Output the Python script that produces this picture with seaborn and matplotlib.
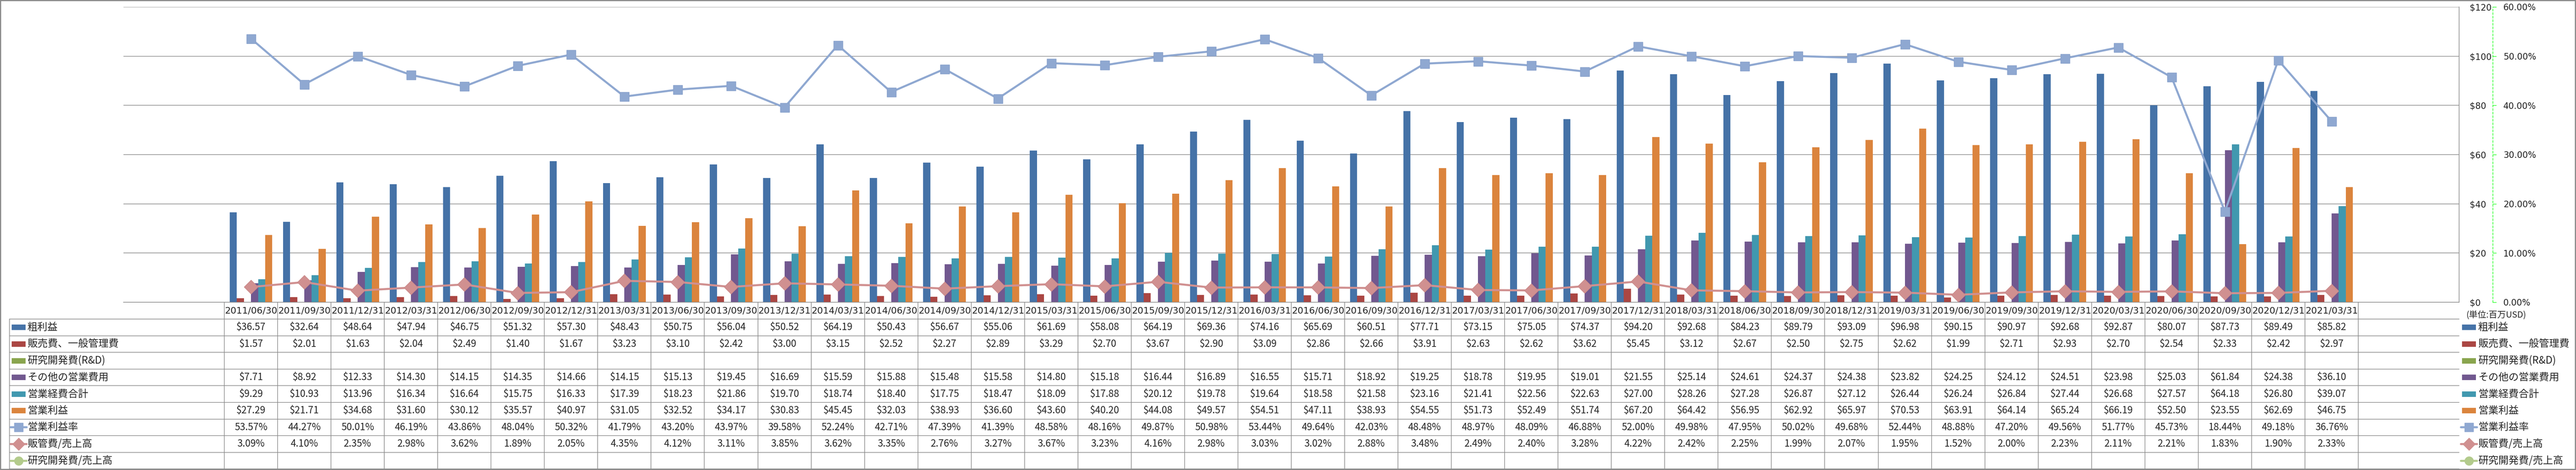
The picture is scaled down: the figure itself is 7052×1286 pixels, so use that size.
import numpy as np
import pandas as pd
import seaborn as sns
import matplotlib
matplotlib.use('Agg')
import matplotlib.pyplot as plt
from matplotlib.lines import Line2D
from matplotlib.patches import Rectangle
from matplotlib.transforms import Affine2D, blended_transform_factory


periods = ['2011/06/30', '2011/09/30', '2011/12/31', '2012/03/31', '2012/06/30', '2012/09/30',
           '2012/12/31', '2013/03/31', '2013/06/30', '2013/09/30', '2013/12/31', '2014/03/31',
           '2014/06/30', '2014/09/30', '2014/12/31', '2015/03/31', '2015/06/30', '2015/09/30',
           '2015/12/31', '2016/03/31', '2016/06/30', '2016/09/30', '2016/12/31', '2017/03/31',
           '2017/06/30', '2017/09/30', '2017/12/31', '2018/03/31', '2018/06/30', '2018/09/30',
           '2018/12/31', '2019/03/31', '2019/06/30', '2019/09/30', '2019/12/31', '2020/03/31',
           '2020/06/30', '2020/09/30', '2020/12/31', '2021/03/31']

gross_profit = [36.57, 32.64, 48.64, 47.94, 46.75, 51.32, 57.30, 48.43, 50.75, 56.04,
                50.52, 64.19, 50.43, 56.67, 55.06, 61.69, 58.08, 64.19, 69.36, 74.16,
                65.69, 60.51, 77.71, 73.15, 75.05, 74.37, 94.20, 92.68, 84.23, 89.79,
                93.09, 96.98, 90.15, 90.97, 92.68, 92.87, 80.07, 87.73, 89.49, 85.82]
sga = [1.57, 2.01, 1.63, 2.04, 2.49, 1.40, 1.67, 3.23, 3.10, 2.42,
       3.00, 3.15, 2.52, 2.27, 2.89, 3.29, 2.70, 3.67, 2.90, 3.09,
       2.86, 2.66, 3.91, 2.63, 2.62, 3.62, 5.45, 3.12, 2.67, 2.50,
       2.75, 2.62, 1.99, 2.71, 2.93, 2.70, 2.54, 2.33, 2.42, 2.97]
rnd_expense = []  # no R&D figures in the source
other_opex = [7.71, 8.92, 12.33, 14.30, 14.15, 14.35, 14.66, 14.15, 15.13, 19.45,
              16.69, 15.59, 15.88, 15.48, 15.58, 14.80, 15.18, 16.44, 16.89, 16.55,
              15.71, 18.92, 19.25, 18.78, 19.95, 19.01, 21.55, 25.14, 24.61, 24.37,
              24.38, 23.82, 24.25, 24.12, 24.51, 23.98, 25.03, 61.84, 24.38, 36.10]
total_opex = [9.29, 10.93, 13.96, 16.34, 16.64, 15.75, 16.33, 17.39, 18.23, 21.86,
              19.70, 18.74, 18.40, 17.75, 18.47, 18.09, 17.88, 20.12, 19.78, 19.64,
              18.58, 21.58, 23.16, 21.41, 22.56, 22.63, 27.00, 28.26, 27.28, 26.87,
              27.12, 26.44, 26.24, 26.84, 27.44, 26.68, 27.57, 64.18, 26.80, 39.07]
operating_income = [27.29, 21.71, 34.68, 31.60, 30.12, 35.57, 40.97, 31.05, 32.52, 34.17,
                    30.83, 45.45, 32.03, 38.93, 36.60, 43.60, 40.20, 44.08, 49.57, 54.51,
                    47.11, 38.93, 54.55, 51.73, 52.49, 51.74, 67.20, 64.42, 56.95, 62.92,
                    65.97, 70.53, 63.91, 64.14, 65.24, 66.19, 52.50, 23.55, 62.69, 46.75]
operating_margin = [53.57, 44.27, 50.01, 46.19, 43.86, 48.04, 50.32, 41.79, 43.20, 43.97,
                    39.58, 52.24, 42.71, 47.39, 41.39, 48.58, 48.16, 49.87, 50.98, 53.44,
                    49.64, 42.03, 48.48, 48.97, 48.09, 46.88, 52.00, 49.98, 47.95, 50.02,
                    49.68, 52.44, 48.88, 47.20, 49.56, 51.77, 45.73, 18.44, 49.18, 36.76]
sga_ratio = [3.09, 4.10, 2.35, 2.98, 3.62, 1.89, 2.05, 4.35, 4.12, 3.11,
             3.85, 3.62, 3.35, 2.76, 3.27, 3.67, 3.23, 4.16, 2.98, 3.03,
             3.02, 2.88, 3.48, 2.49, 2.40, 3.28, 4.22, 2.42, 2.25, 1.99,
             2.07, 1.95, 1.52, 2.00, 2.23, 2.11, 2.21, 1.83, 1.90, 2.33]
rnd_ratio = []

bar_names = ['粗利益', '販売費、一般管理費', '研究開発費(R&D)', 'その他の営業費用', '営業経費合計', '営業利益']
bar_colors = ['#4572A7', '#AA4643', '#89A54E', '#71588F', '#4198AF', '#DB843D']
line_names = ['営業利益率', '販管費/売上高', '研究開発費/売上高']
line_colors = ['#8FA8D1', '#D09090', '#B3CB8C']
line_markers = ['s', 'D', 'o']
money_ticks = [0, 20, 40, 60, 80, 100, 120]
pct_ticks = [0, 10, 20, 30, 40, 50, 60]

sns.set_style('white')
plt.rcParams['font.family'] = ['DejaVu Sans']
JP = ['Noto Sans CJK JP', 'DejaVu Sans']
GRID = '#8A8A8A'

W, H = 7052, 1286
fig = plt.figure(figsize=(W / 100, H / 100), dpi=100)
to_px = Affine2D().scale(1 / W, -1 / H).translate(0, 1) + fig.transFigure

plot_l, plot_t, plot_r, plot_b = 338, 19, 6732, 827
ax = fig.add_axes([plot_l / W, 1 - plot_b / H, (plot_r - plot_l) / W, (plot_b - plot_t) / H])

bar_values = [gross_profit, sga, rnd_expense, other_opex, total_opex, operating_income]
records = []
for name, vals in zip(bar_names, bar_values):
    for p, v in zip(periods, vals):
        records.append({'period': p, 'series': name, 'value': v})
df = pd.DataFrame(records)

sns.barplot(data=df, x='period', y='value', hue='series', order=periods, hue_order=bar_names,
            palette=dict(zip(bar_names, bar_colors)), saturation=1, width=0.8, errorbar=None,
            legend=False, linewidth=0, edgecolor='none', ax=ax)

ax2 = ax.twinx()

ax.set_ylim(0, 120)
ax.set_yticks(money_ticks)
ax.set_yticklabels([f'${t}' for t in money_ticks])
ax.yaxis.tick_right()
ax.tick_params(axis='y', length=0, pad=21, labelsize=17)
ax.tick_params(axis='x', length=0, labelbottom=False)
ax.set_xlabel('')
ax.set_ylabel('')
ax.yaxis.grid(True, color=GRID, lw=1.2)
ax.set_axisbelow(True)
for side in ['left', 'top']:
    ax.spines[side].set_visible(False)
for side in ['right', 'bottom']:
    ax.spines[side].set_color(GRID)
    ax.spines[side].set_linewidth(1.2)

xpos = np.arange(len(periods))
ax2.plot(xpos, np.array(operating_margin) / 100, color=line_colors[0], lw=4,
         marker='s', ms=18, mfc=line_colors[0], mec='#87A0CB', solid_joinstyle='round')
ax2.plot(xpos, np.array(sga_ratio) / 100, color=line_colors[1], lw=4,
         marker='D', ms=19, mfc=line_colors[1], mec='#C98888')
ax2.set_ylim(0, 0.6)
ax2.set_yticks([t / 100 for t in pct_ticks])
ax2.set_yticklabels([f'{t:.2f}%' for t in pct_ticks])
ax2.tick_params(axis='y', direction='out', length=7, color='#00FF00', width=1, pad=14, labelsize=17)
for side in ['left', 'top', 'bottom']:
    ax2.spines[side].set_visible(False)
ax2.spines['right'].set_position(('outward', 66))
ax2.spines['right'].set_color('#00FF00')
ax2.spines['right'].set_linestyle((0, (4, 3)))
ax2.spines['right'].set_linewidth(1)
ax2.set_ylabel('')

fig.text(6752, 862, '(単位:百万USD)', transform=to_px, family=JP, fontsize=17, va='center', ha='left')

# data table under the plot
col_tr = blended_transform_factory(ax.transData, to_px)
tab_left = 26
row_top = 873
row_h = 45.6
n_rows = len(bar_names) + len(line_names)
tab_bottom = row_top + n_rows * row_h

for i in range(len(periods) + 1):
    fig.add_artist(Line2D([i - 0.5, i - 0.5], [plot_b, tab_bottom], transform=col_tr, color=GRID, lw=1.2))
fig.add_artist(Line2D([tab_left, tab_left], [row_top, tab_bottom], transform=to_px, color=GRID, lw=1.2))
for k in range(n_rows + 1):
    y = row_top + k * row_h
    fig.add_artist(Line2D([tab_left, plot_r], [y, y], transform=to_px, color=GRID, lw=1.2))

for i, p in enumerate(periods):
    fig.text(i, (plot_b + row_top) / 2 + 1, p, transform=col_tr, fontsize=18, ha='center', va='center')

table_rows = [[f'${v:.2f}' for v in vals] for vals in bar_values]
table_rows += [[f'{v:.2f}%' for v in vals] for vals in [operating_margin, sga_ratio, rnd_ratio]]
for r, cells in enumerate(table_rows):
    yc = row_top + (r + 0.5) * row_h
    for i, s in enumerate(cells):
        fig.text(i, yc, s, transform=col_tr, family=JP, fontsize=19, ha='center', va='center')


def draw_key(x0, yc, r):
    if r < len(bar_names):
        fig.add_artist(Rectangle((x0 + 3, yc - 7.5), 38, 15, transform=to_px,
                                 facecolor=bar_colors[r], edgecolor='none'))
    else:
        j = r - len(bar_names)
        fig.add_artist(Line2D([x0, x0 + 44], [yc, yc], transform=to_px, color=line_colors[j], lw=4))
        fig.add_artist(Line2D([x0 + 22], [yc], transform=to_px, color=line_colors[j],
                              marker=line_markers[j], ms=17, lw=0))


all_labels = bar_names + line_names
for r, label in enumerate(all_labels):
    yc = row_top + (r + 0.5) * row_h
    draw_key(29, yc, r)
    fig.text(75, yc, label, transform=to_px, family=JP, fontsize=20, ha='left', va='center')
    draw_key(6737, yc, r)
    fig.text(6784, yc, label, transform=to_px, family=JP, fontsize=20, ha='left', va='center')

fig.add_artist(Rectangle((1, 1), W - 3, H - 3, transform=to_px, fill=False, edgecolor='#8C8C8C', lw=2.5))

fig.savefig('out.png', dpi=100)
